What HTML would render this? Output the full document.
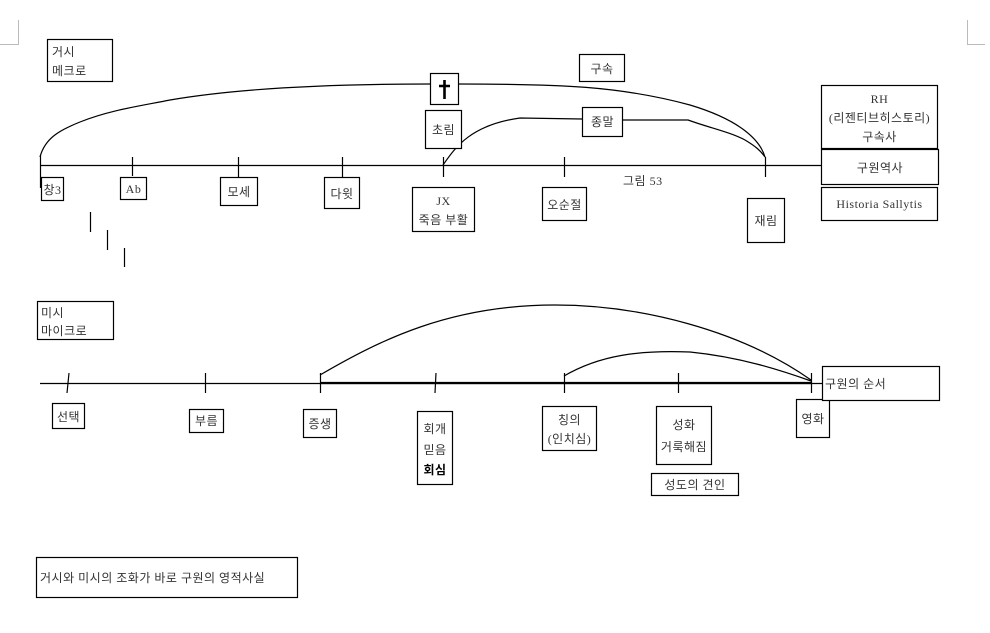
<!DOCTYPE html>
<html><head><meta charset="utf-8"><style>
html,body{margin:0;padding:0;background:#fff;}
svg{display:block;}
text{font-family:"Liberation Serif","Noto Sans CJK KR",sans-serif;font-size:12px;fill:#333;letter-spacing:0.5px;}
.b{fill:#fff;stroke:#000;stroke-width:1.2;}
.l{fill:none;stroke:#000;stroke-width:1.2;}
</style></head><body>
<svg width="990" height="633" viewBox="0 0 990 633">
<path d="M0 44.5H18.5V20" stroke="#bbb" fill="none"/>
<path d="M967.5 20V44.5H985" stroke="#bbb" fill="none"/>

<rect class="b" x="47.5" y="39.5" width="65" height="42"/>
<text x="52" y="56">거시</text><text x="52" y="75">메크로</text>

<path class="l" d="M40 157 C45 138 60 130 80 122 C110 110 140 106 170 100 C240 88 330 84 430 84 M458 84 C560 84 620 86 690 105 C740 120 760 140 765 157"/>
<path class="l" d="M443 165 C455 148 470 125 520 118 L582 119 M622 120 L688 120 C710 128 730 132 745 140 C755 146 760 150 765 157"/>

<line class="l" x1="40" y1="165.5" x2="822" y2="165.5"/>
<path class="l" d="M40.5 155V188 M132.5 157V176 M238.5 157V177 M342.5 157V177 M443.5 157V177 M564.5 157V177 M765.5 157V177"/>

<rect class="b" x="430.5" y="73.5" width="28" height="31"/>
<path d="M444.5 80V99 M439 86H450" stroke="#000" stroke-width="2.6"/>
<rect class="b" x="425.5" y="110.5" width="36" height="38"/>
<text x="443.5" y="134" text-anchor="middle">초림</text>
<rect class="b" x="579.5" y="54.5" width="45" height="27"/>
<text x="602" y="73" text-anchor="middle">구속</text>
<rect class="b" x="582.5" y="107.5" width="40" height="29"/>
<text x="602.5" y="126" text-anchor="middle">종말</text>

<rect class="b" x="41.5" y="177.5" width="22" height="23"/><text x="52.5" y="194" text-anchor="middle">창3</text>
<rect class="b" x="120.5" y="177.5" width="26" height="22"/><text x="133.5" y="193" text-anchor="middle">Ab</text>
<rect class="b" x="220.5" y="177.5" width="37" height="28"/><text x="239" y="196" text-anchor="middle">모세</text>
<rect class="b" x="324.5" y="177.5" width="35" height="31"/><text x="342" y="198" text-anchor="middle">다윗</text>
<rect class="b" x="412.5" y="187.5" width="62" height="44"/><text x="443.5" y="205" text-anchor="middle">JX</text><text x="443.5" y="224" text-anchor="middle">죽음 부활</text>
<rect class="b" x="542.5" y="187.5" width="44" height="33"/><text x="564.5" y="209" text-anchor="middle">오순절</text>
<rect class="b" x="747.5" y="198.5" width="37" height="44"/><text x="766" y="225" text-anchor="middle">재림</text>
<text x="623" y="185">그림 53</text>

<rect class="b" x="821.5" y="85.5" width="116" height="63"/>
<text x="879.5" y="103" text-anchor="middle">RH</text><text x="879.5" y="122" text-anchor="middle">(리젠티브히스토리)</text><text x="879.5" y="141" text-anchor="middle">구속사</text>
<rect class="b" x="821.5" y="149.5" width="117" height="35"/><text x="880" y="172" text-anchor="middle">구원역사</text>
<rect class="b" x="821.5" y="187.5" width="116" height="33"/><text x="879.5" y="208" text-anchor="middle">Historia Sallytis</text>

<path class="l" d="M90.5 212V232 M107.5 230V250 M124.5 248V267"/>

<rect class="b" x="37.5" y="301.5" width="76" height="38"/>
<text x="41" y="317">미시</text><text x="41" y="335">마이크로</text>

<path class="l" d="M320 375 C380 340 450 305 555 305 C640 305 740 330 811 380"/>
<path class="l" d="M564 376 C600 355 640 350 690 352 C740 357 780 370 811 381"/>
<line class="l" x1="40" y1="383.5" x2="822" y2="383.5"/>
<line x1="320" y1="383" x2="811" y2="383" stroke="#000" stroke-width="2.2"/>
<path class="l" d="M69 373L67 393 M205.5 373V393 M320.5 373V393 M436 373L435 393 M564.5 373V393 M678.5 373V393 M811.5 373V393"/>

<rect class="b" x="52.5" y="403.5" width="32" height="25"/><text x="68.5" y="421" text-anchor="middle">선택</text>
<rect class="b" x="189.5" y="409.5" width="34" height="23"/><text x="206.5" y="425" text-anchor="middle">부름</text>
<rect class="b" x="303.5" y="409.5" width="33" height="28"/><text x="320" y="428" text-anchor="middle">증생</text>
<rect class="b" x="417.5" y="411.5" width="35" height="73"/>
<text x="435" y="433" text-anchor="middle">회개</text><text x="435" y="454" text-anchor="middle">믿음</text><text x="435" y="474" text-anchor="middle" style="font-weight:bold;fill:#000">회심</text>
<rect class="b" x="542.5" y="406.5" width="54" height="44"/>
<text x="569.5" y="424" text-anchor="middle">칭의</text><text x="569.5" y="443" text-anchor="middle">(인치심)</text>
<rect class="b" x="656.5" y="406.5" width="55" height="58"/>
<text x="684" y="429" text-anchor="middle">성화</text><text x="684" y="451" text-anchor="middle">거룩해짐</text>
<rect class="b" x="651.5" y="473.5" width="87" height="22"/><text x="695" y="489" text-anchor="middle">성도의 견인</text>
<rect class="b" x="796.5" y="399.5" width="33" height="38"/><text x="813" y="423" text-anchor="middle">영화</text>
<rect class="b" x="822.5" y="366.5" width="117" height="34"/><text x="825" y="388">구원의 순서</text>

<rect class="b" x="36.5" y="557.5" width="261" height="40"/>
<text x="40" y="582">거시와 미시의 조화가 바로 구원의 영적사실</text>
</svg>
</body></html>
